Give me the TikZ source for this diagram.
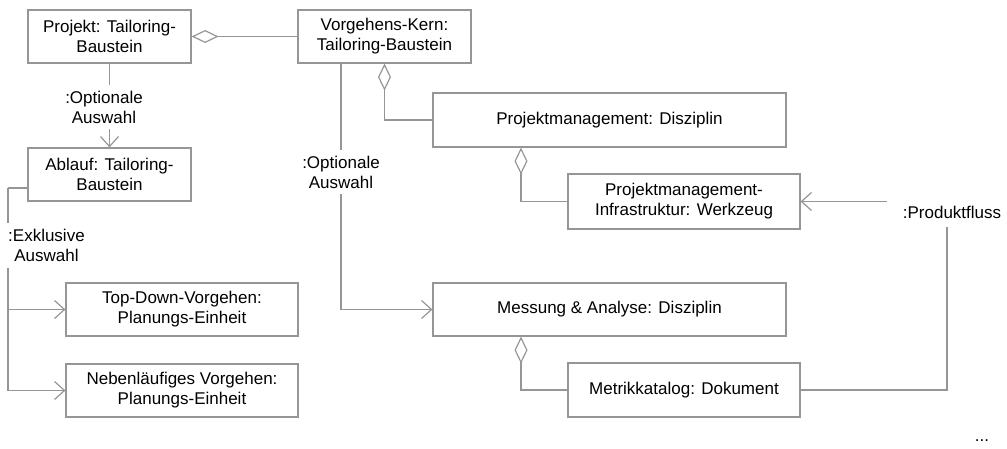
\documentclass[tikz,border=0pt]{standalone}
\usepackage{fontspec}
\setmainfont{Liberation Sans}
\usetikzlibrary{arrows.meta}
\definecolor{linegray}{RGB}{150,150,150}
\begin{document}
\begin{tikzpicture}[x=1pt,y=-1pt,
  every node/.style={font=\fontsize{17pt}{20pt}\selectfont, text=black},
  box/.style={draw=linegray, line width=1.2pt, rectangle, inner sep=0pt, align=center},
  conn/.style={draw=linegray, line width=1.2pt},
  agg/.style={conn, {Diamond[open,length=27pt,width=13pt]}-},
  nav/.style={conn, -{Straight Barb[length=10pt,width=18pt]}},
  lbl/.style={fill=white, align=center, inner xsep=2pt, inner ysep=6pt}
]
\useasboundingbox (0,0) rectangle (1007,449);

% building blocks and disciplines
\node[box, minimum width=163pt, minimum height=53pt] (proj) at (109.5,36.5) {Projekt: Tailoring-\\Baustein};
\node[box, minimum width=173pt, minimum height=53pt] (kern) at (384.5,36.5) {Vorgehens-Kern:\\Tailoring-Baustein};
\node[box, minimum width=163pt, minimum height=53pt] (ablauf) at (109.5,174.5) {Ablauf: Tailoring-\\Baustein};
\node[box, minimum width=353pt, minimum height=54pt] (pmd) at (609.5,120) {Projektmanagement: Disziplin};
\node[box, minimum width=232pt, minimum height=55pt] (pmi) at (684,201.5) {Projektmanagement-\\Infrastruktur: Werkzeug};
\node[box, minimum width=232pt, minimum height=53pt] (td) at (182,309.5) {Top-Down-Vorgehen:\\Planungs-Einheit};
\node[box, minimum width=232pt, minimum height=53pt] (nv) at (182,390.5) {Nebenläufiges Vorgehen:\\Planungs-Einheit};
\node[box, minimum width=353pt, minimum height=53pt] (mess) at (609.5,309.5) {Messung \& Analyse: Disziplin};
\node[box, minimum width=232pt, minimum height=54pt] (metrik) at (684,390) {Metrikkatalog: Dokument};

% aggregations and selections
\draw[agg] (proj.east) -- (kern.west);
\draw[nav] (proj.south) -- (ablauf.north);
\node[lbl] (opt1) at (104,107) {:Optionale\\Auswahl};

\draw[agg] (kern.south) |- (pmd.west);
\draw[nav] ([xshift=-43.5pt]kern.south) |- (mess.west);
\node[lbl] (opt2) at (341,172) {:Optionale\\Auswahl};

\coordinate (exk) at (8,188);
\draw[conn] ([yshift=-13.5pt]ablauf.west) -- (exk);
\draw[nav] (exk) |- (td.west);
\draw[nav] (exk) |- (nv.west);
\node[lbl, anchor=west] (exl) at (6,245.5) {:Exklusive\\Auswahl};

\draw[agg] ([xshift=-88.5pt]pmd.south) |- (pmi.west);
\draw[agg] ([xshift=-88.5pt]mess.south) |- (metrik.west);

% product flow
\node (pf) at (952,212) {:Produktfluss};
\coordinate (pfdown) at (947,227);
\coordinate (pfleft) at (887,201.5);
\draw[conn] (metrik.east) -| (pfdown);
\draw[nav] (pfleft) -- (pmi.east);

\node (dots) at (982,441) {...};
\end{tikzpicture}
\end{document}
